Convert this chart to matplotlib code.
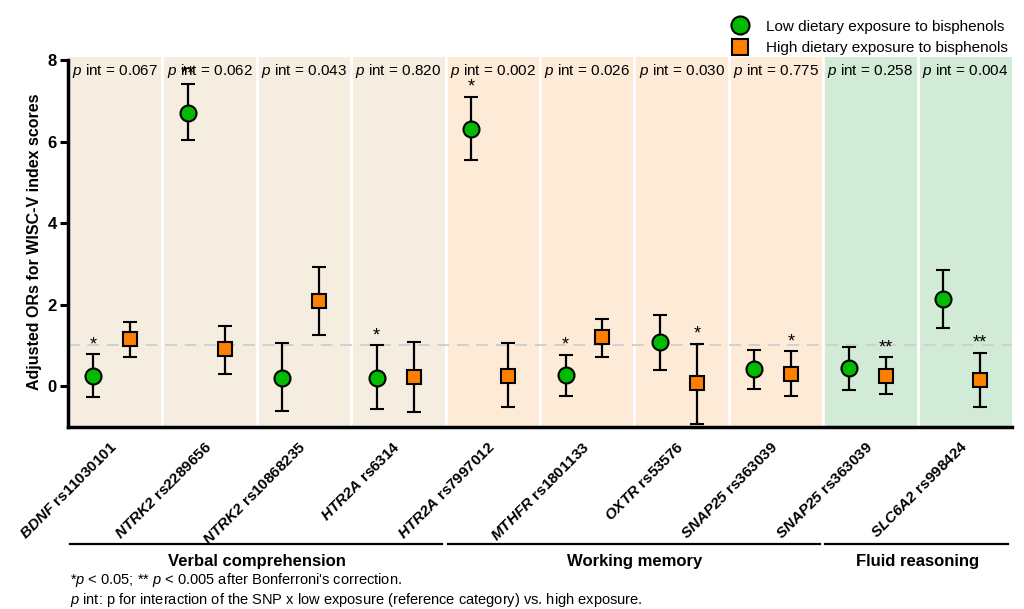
import numpy as np
import matplotlib
matplotlib.use("Agg")
import matplotlib.pyplot as plt
from matplotlib.lines import Line2D
from matplotlib.transforms import blended_transform_factory

plt.rcParams['font.family'] = ['Liberation Sans', 'DejaVu Sans']
plt.rcParams['mathtext.fontset'] = 'custom'
# gene names: bold italic (digits go through rm in mathtext)
plt.rcParams['mathtext.rm'] = 'Liberation Sans:italic:bold'
plt.rcParams['mathtext.it'] = 'Liberation Sans:italic:bold'
plt.rcParams['mathtext.sf'] = 'Liberation Sans:italic'

########## data ##########
genes = ['BDNF', 'NTRK2', 'NTRK2', 'HTR2A', 'HTR2A', 'MTHFR', 'OXTR', 'SNAP25', 'SNAP25', 'SLC6A2']
snps = ['rs11030101', 'rs2289656', 'rs10868235', 'rs6314', 'rs7997012',
        'rs1801133', 'rs53576', 'rs363039', 'rs363039', 'rs998424']
p_int = ['0.067', '0.062', '0.043', '0.820', '0.002', '0.026', '0.030', '0.775', '0.258', '0.004']

low_or = [0.25, 6.71, 0.21, 0.21, 6.30, 0.27, 1.09, 0.42, 0.44, 2.14]
low_lo = [-0.27, 6.04, -0.61, -0.57, 5.55, -0.24, 0.40, -0.06, -0.09, 1.42]
low_hi = [0.79, 7.42, 1.05, 1.00, 7.10, 0.77, 1.75, 0.89, 0.97, 2.85]
low_sig = ['*', '**', '', '*', '*', '*', '', '', '', '']

high_or = [1.15, 0.90, 2.09, 0.23, 0.25, 1.20, 0.07, 0.31, 0.26, 0.15]
high_lo = [0.72, 0.29, 1.25, -0.64, -0.52, 0.72, -0.92, -0.24, -0.19, -0.51]
high_hi = [1.57, 1.47, 2.92, 1.09, 1.07, 1.65, 1.04, 0.86, 0.71, 0.82]
high_sig = ['', '', '', '', '', '', '*', '*', '**', '**']

groups = ['Verbal comprehension', 'Working memory', 'Fluid reasoning']
group_span = [(0, 4), (4, 8), (8, 10)]
group_color = ['#f5ede0', '#fdebd8', '#d2ebd6']
########## end data ##########

fig = plt.figure(figsize=(10.24, 6.09), dpi=100)
ax = fig.add_axes([0.0664, 0.299, 0.922, 0.607])

for (a, b), c in zip(group_span, group_color):
    ax.axvspan(a, b, color=c, lw=0, zorder=0)
for i in range(1, 10):
    ax.axvline(i, color='white', lw=2, zorder=1)
ax.axhline(1, color='#d0d0d0', lw=1.4, dashes=(6, 4), zorder=1)

x = np.arange(10)
xl = x + 0.27
xh = x + 0.66
low = np.array(low_or)
high = np.array(high_or)

ax.errorbar(xl, low, yerr=[low - np.array(low_lo), np.array(low_hi) - low],
            fmt='o', color='black', ecolor='black', elinewidth=1.6, capsize=5, capthick=1.6,
            markersize=11.5, markerfacecolor='#00bb00', markeredgecolor='black',
            markeredgewidth=1.5, zorder=3)
ax.errorbar(xh, high, yerr=[high - np.array(high_lo), np.array(high_hi) - high],
            fmt='s', color='black', ecolor='black', elinewidth=1.6, capsize=5, capthick=1.6,
            markersize=10.5, markerfacecolor='#ff7f00', markeredgecolor='black',
            markeredgewidth=1.5, zorder=3)

for i in range(10):
    if low_sig[i]:
        ax.text(xl[i], low_hi[i] + 0.02, low_sig[i], ha='center', va='bottom', fontsize=13, zorder=4)
    if high_sig[i]:
        ax.text(xh[i], high_hi[i] + 0.02, high_sig[i], ha='center', va='bottom', fontsize=13, zorder=4)
    ax.text(i + 0.5, 7.95, r'$\mathsf{p}$ int = ' + p_int[i], ha='center', va='top', fontsize=11, zorder=4)

ax.set_xlim(0, 10)
ax.set_ylim(-1, 8.07)
ax.set_yticks([0, 2, 4, 6, 8])
ax.set_yticklabels(['0', '2', '4', '6', '8'], fontweight='bold', fontsize=12)
ax.set_xticks(x + 0.45)
ax.set_xticklabels([r'$\mathit{%s}$ %s' % (g, s) for g, s in zip(genes, snps)],
                   rotation=45, ha='right', rotation_mode='anchor', fontweight='bold', fontsize=11)
ax.tick_params(axis='x', length=0, pad=9)
ax.tick_params(axis='y', length=6, width=2.2, pad=2)
ax.set_ylabel('Adjusted ORs for WISC-V index scores', fontweight='bold', fontsize=11.5)
for s in ['top', 'right']:
    ax.spines[s].set_visible(False)
ax.spines['left'].set_linewidth(2.5)
ax.spines['bottom'].set_linewidth(2.5)
ax.spines['left'].set_bounds(-1, 8)

trans = blended_transform_factory(ax.transData, fig.transFigure)
for (a, b), g in zip(group_span, groups):
    ax.plot([a + 0.02, b - 0.04], [0.107, 0.107], color='black', lw=1.6, transform=trans, clip_on=False)
    ax.text((a + b) / 2, 0.078, g, ha='center', va='center', fontweight='bold', fontsize=12,
            transform=trans)

fig.text(0.068, 0.047, r"*$\mathsf{p}$ < 0.05; ** $\mathsf{p}$ < 0.005 after Bonferroni's correction.",
         fontsize=10.5, va='center')
fig.text(0.068, 0.014, r"$\mathsf{p}$ int: p for interaction of the SNP x low exposure (reference category) vs. high exposure.",
         fontsize=10.5, va='center')

handles = [Line2D([], [], ls='', marker='o', markersize=13, markerfacecolor='#00bb00',
                  markeredgecolor='black', markeredgewidth=1.5),
           Line2D([], [], ls='', marker='s', markersize=12, markerfacecolor='#ff7f00',
                  markeredgecolor='black', markeredgewidth=1.5)]
fig.legend(handles, ['Low dietary exposure to bisphenols', 'High dietary exposure to bisphenols'],
           loc='upper right', bbox_to_anchor=(0.998, 0.99), frameon=False, fontsize=11,
           handletextpad=1.1, labelspacing=0.5, handlelength=1.2)

fig.savefig('out.png', dpi=100)
